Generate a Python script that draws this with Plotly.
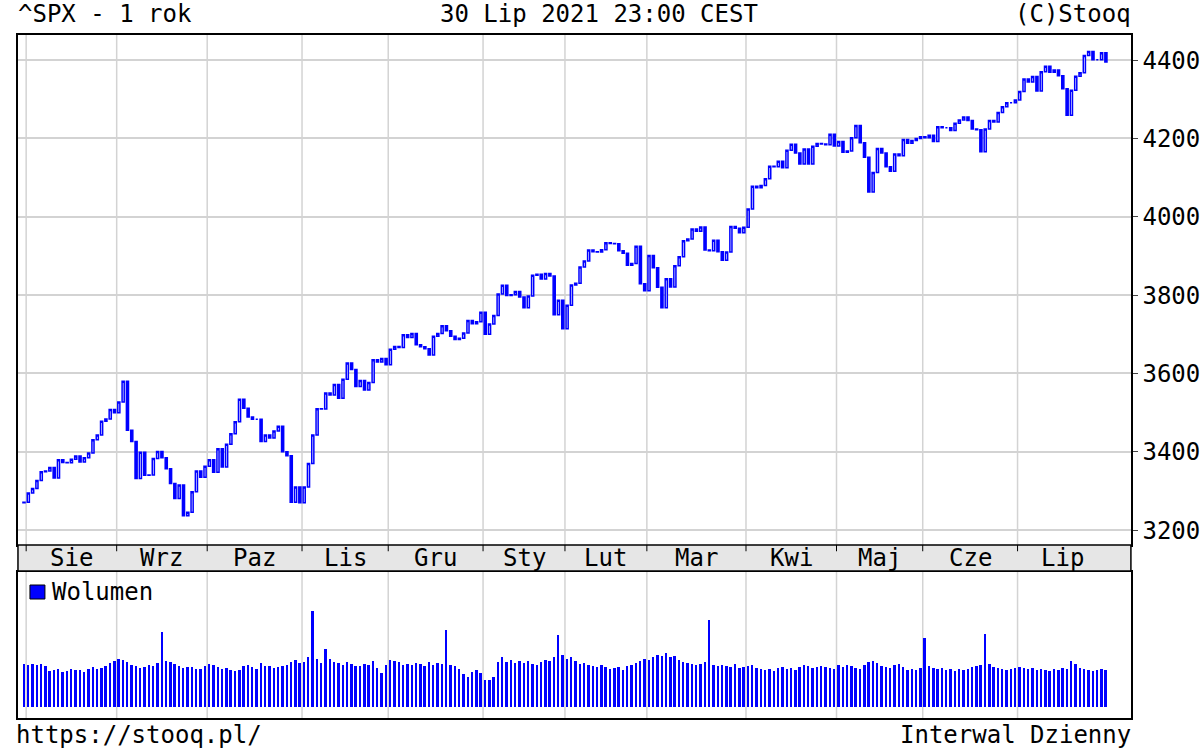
import pandas as pd
import plotly.graph_objects as go

closes = [3271,
 3295,3306,3327,3349,3351,3360,3333,3380,3373,3372,3381,3389,3374,3385,3397,3431,3443,3478,3484,3508,3500,
 3527,3580,3455,3426,3332,3399,3340,3341,3383,3401,3385,3357,3319,3281,3315,3237,3246,3298,3351,3335,3363,
 3380,3348,3408,3361,3419,3446,3477,3534,3511,3489,3483,3483,3426,3443,3435,3453,3465,3400,3390,3271,3310,3270,
 3310,3370,3443,3510,3509,3550,3545,3572,3537,3585,3627,3610,3567,3582,3558,3577,3635,3629,3638,3622,
 3662,3669,3666,3699,3692,3702,3673,3668,3663,3647,3695,3702,3722,3709,3695,3687,3690,3703,3735,3727,3732,3756,
 3700,3726,3748,3803,3825,3799,3801,3809,3795,3768,3798,3851,3853,3841,3855,3849,3750,3787,3714,
 3774,3826,3830,3872,3887,3915,3911,3910,3916,3934,3932,3931,3913,3907,3876,3881,3925,3829,3811,
 3901,3870,3820,3768,3842,3821,3875,3898,3939,3943,3969,3963,3974,3915,3913,3940,3911,3889,3910,3975,3971,3959,3973,
 4020,4078,4074,4080,4097,4129,4128,4142,4125,4170,4185,4163,4135,4173,4135,4180,4187,4186,4184,4211,4181,
 4192,4165,4168,4202,4233,4189,4152,4063,4113,4174,4163,4128,4116,4160,4156,4197,4188,4195,4200,4204,
 4202,4208,4192,4230,4227,4227,4220,4239,4247,4255,4246,4224,4222,4166,4224,4246,4242,4266,4281,4291,4291,4298,
 4320,4352,4344,4358,4321,4370,4384,4369,4375,4360,4327,4259,4323,4359,4368,4412,4422,4401,4401,4419,4395]

opens = [3270] + closes[:-1]

volumes = [4.1,
 4.0,4.1,4.0,4.1,3.9,3.4,3.5,3.6,3.3,3.4,3.6,3.5,3.5,3.3,3.6,3.8,3.6,3.7,3.9,4.2,4.4,
 4.6,4.5,4.3,4.0,3.9,3.7,3.8,4.0,3.9,4.2,7.2,4.4,4.3,4.1,3.9,3.7,3.8,3.8,3.6,3.6,3.9,
 4.1,4.0,3.8,3.6,3.7,3.5,3.4,3.5,3.9,4.0,3.8,3.6,4.2,3.9,3.9,3.7,3.8,3.9,4.0,4.3,4.5,4.2,
 4.3,4.8,9.2,4.6,4.2,5.6,4.6,4.3,4.2,4.0,4.3,4.1,3.9,3.9,4.1,4.0,4.4,3.7,3.2,4.0,
 4.5,4.4,4.3,4.0,4.1,4.0,4.2,4.1,3.9,4.3,4.0,4.2,4.1,7.4,4.0,3.9,3.6,3.1,2.9,3.3,3.5,3.2,
 2.6,2.6,2.9,4.3,4.8,4.3,4.5,4.2,4.4,4.2,4.4,4.1,4.0,4.3,4.5,4.4,4.8,6.9,5.0,4.6,
 4.8,4.4,4.1,4.2,4.0,3.9,3.8,4.0,3.8,3.6,3.7,3.8,3.5,3.9,4.0,4.2,4.4,4.6,4.5,
 4.8,5.0,4.9,5.2,4.8,4.9,4.5,4.3,4.2,4.1,4.0,4.1,4.3,8.4,4.0,3.9,4.0,3.9,3.8,4.1,3.7,3.8,3.9,
 4.0,3.7,3.6,3.5,3.6,3.4,3.7,3.8,3.6,3.7,3.5,3.8,4.0,3.9,3.7,3.8,3.9,3.8,3.7,3.6,4.0,
 3.8,4.0,3.9,3.7,3.6,4.0,4.3,4.4,4.2,3.9,3.8,3.7,4.0,4.1,3.8,3.5,3.6,3.5,3.7,6.6,
 3.9,3.7,3.6,3.7,3.5,3.6,3.4,3.6,3.5,3.6,3.8,3.9,4.0,7.0,4.1,3.8,3.7,3.6,3.5,3.6,3.7,3.8,
 3.7,3.6,3.7,3.5,3.6,3.5,3.4,3.6,3.5,3.7,3.6,4.4,4.1,3.7,3.6,3.5,3.4,3.5,3.6,3.5,3.7]

month_labels = ["Sie", "Wrz", "Paz", "Lis", "Gru", "Sty", "Lut", "Mar", "Kwi", "Maj", "Cze", "Lip"]
price_ticks = [3200, 3400, 3600, 3800, 4000, 4200, 4400]

holidays = ["2020-09-07", "2020-11-26", "2020-12-25", "2021-01-01", "2021-01-18",
            "2021-02-15", "2021-04-02", "2021-05-31", "2021-07-05"]
dates = [d for d in pd.bdate_range("2020-07-31", "2021-07-30") if d.strftime("%Y-%m-%d") not in holidays]
n = len(closes)
dates = dates[:n]
x = list(range(n))
highs = [max(o, c) for o, c in zip(opens, closes)]
lows = [min(o, c) for o, c in zip(opens, closes)]

starts = [i for i in range(1, n) if dates[i].month != dates[i-1].month]
BLUE = "#0000ff"
mono = "DejaVu Sans Mono"
FS = 24

fig = go.Figure()
fig.add_trace(go.Candlestick(x=x, open=opens, high=highs, low=lows, close=closes,
    increasing=dict(line=dict(color=BLUE, width=1.5), fillcolor="white"),
    decreasing=dict(line=dict(color=BLUE, width=1.5), fillcolor=BLUE),
    whiskerwidth=0, showlegend=False, xaxis="x", yaxis="y"))
fig.add_trace(go.Bar(x=x, y=volumes, marker=dict(color=BLUE, line=dict(width=0)),
    width=0.45, name="Wolumen", xaxis="x2", yaxis="y2", showlegend=False))

shapes = []
for s in starts:
    for xr_, (y0, y1) in (("x", (0.2733, 0.9533)), ("x2", (0.0427, 0.2373))):
        shapes.append(dict(type="line", xref=xr_, yref="paper", x0=s - 0.5, x1=s - 0.5, y0=y0, y1=y1,
                           line=dict(color="#d3d3d3", width=1.5), layer="below"))
shapes.append(dict(type="rect", xref="paper", yref="paper", x0=0.015, x1=0.944, y0=0.2387, y1=0.2733,
                   fillcolor="#e6e6e6", line=dict(color="black", width=1.5)))
for s in starts:
    shapes.append(dict(type="line", xref="x", yref="paper", x0=s - 0.5, x1=s - 0.5, y0=0.2733, y1=0.265,
                       line=dict(color="black", width=1)))
shapes.append(dict(type="rect", xref="paper", yref="paper", x0=0.025, x1=0.0375, y0=0.2013, y1=0.22,
                   fillcolor=BLUE, line=dict(color="black", width=1)))

ann = []
bounds = [0] + starts + [n]
for i, lab in enumerate(month_labels):
    mid = (bounds[i + 1] + bounds[i + 2]) / 2 - 0.5
    ann.append(dict(x=mid, xref="x", y=0.2565, yref="paper", yanchor="middle", text=lab, showarrow=False,
                    font=dict(size=FS, color="black", family=mono)))
top = dict(yref="paper", y=0.981, yanchor="middle", showarrow=False, font=dict(size=FS, color="black", family=mono))
ann += [dict(top, x=0.013, xref="paper", xanchor="left", text="^SPX - 1 rok"),
        dict(top, x=0.5, xref="paper", xanchor="center", text="30 Lip 2021 23:00 CEST"),
        dict(top, x=0.946, xref="paper", xanchor="right", text="(C)Stooq"),
        dict(x=0.0415, xref="paper", y=0.211, yref="paper", yanchor="middle", xanchor="left", showarrow=False,
             text="Wolumen", font=dict(size=FS, color="black", family=mono)),
        dict(x=0.012, xref="paper", y=0.02, yref="paper", yanchor="middle", xanchor="left", showarrow=False,
             text="https://stooq.pl/", font=dict(size=FS, color="black", family=mono)),
        dict(x=0.946, xref="paper", y=0.02, yref="paper", yanchor="middle", xanchor="right", showarrow=False,
             text="Interwal Dzienny", font=dict(size=FS, color="black", family=mono))]

xr = [-1.4, 256.8]
fig.update_layout(
    width=1200, height=750, margin=dict(l=0, r=0, t=0, b=0),
    paper_bgcolor="white", plot_bgcolor="white", bargap=0,
    font=dict(family=mono, size=FS, color="black"),
    xaxis=dict(domain=[0.015, 0.944], range=xr, showgrid=False, showticklabels=False, zeroline=False,
               rangeslider=dict(visible=False), showline=True, mirror=True, linecolor="black", linewidth=1.5, anchor="y"),
    yaxis=dict(domain=[0.2733, 0.9533], range=[3162, 4464], side="right", tickvals=price_ticks,
               showgrid=True, gridcolor="#d3d3d3", gridwidth=1.5, zeroline=False, ticks="outside", ticklen=5,
               showline=True, mirror=True, linecolor="black", linewidth=1.5, anchor="x"),
    xaxis2=dict(domain=[0.015, 0.944], range=xr, showgrid=False, showticklabels=False, zeroline=False,
                showline=True, mirror=True, linecolor="black", linewidth=1.5, anchor="y2"),
    yaxis2=dict(domain=[0.0427, 0.2373], range=[-1.1, 13], showgrid=False, showticklabels=False, zeroline=False,
                showline=True, mirror=True, linecolor="black", linewidth=1.5, anchor="x2"),
    shapes=shapes, annotations=ann)
fig.write_html("out.html", config={"displayModeBar": False},
               post_script="document.body.style.margin='0';document.body.style.padding='0';")
